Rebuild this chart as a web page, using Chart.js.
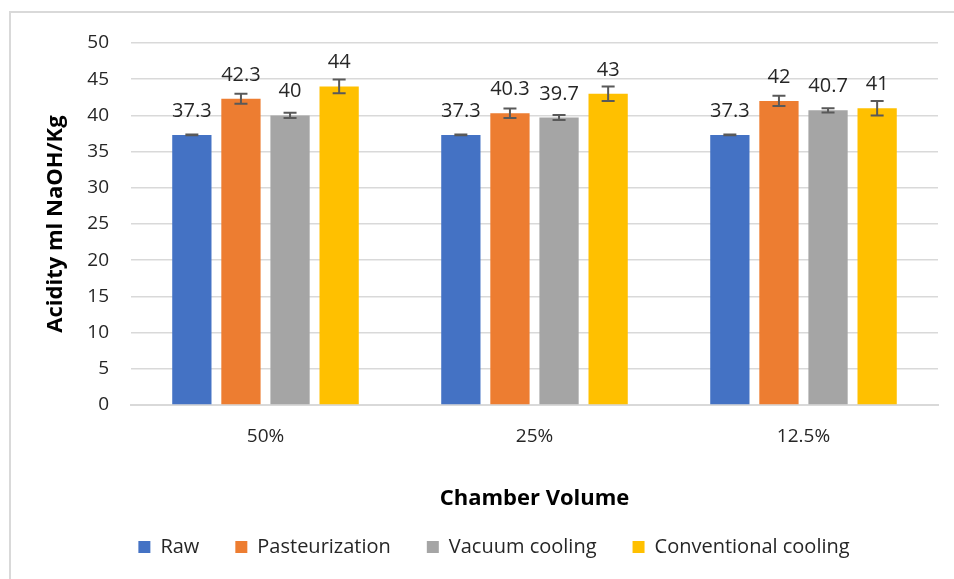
<!DOCTYPE html>
<html>
<head>
<meta charset="utf-8">
<script src="https://cdn.jsdelivr.net/npm/chart.js@4.4.0/dist/chart.umd.min.js"></script>
<style>
  html, body { margin: 0; padding: 0; background: #fff; }
  #wrap { position: relative; width: 954px; height: 579px; overflow: hidden; }
  #frame { position: absolute; left: 9px; top: 11px; width: 960px; height: 600px;
           border-left: 2px solid #d9d9d9; border-top: 2px solid #d9d9d9; }
  #chart { position: absolute; left: 0; top: 0; }
</style>
</head>
<body>
<div id="wrap">
  <div id="frame"></div>
  <canvas id="chart" width="954" height="579"></canvas>
</div>
<script>
const categories = ['50%', '25%', '12.5%'];
const seriesNames = ['Raw', 'Pasteurization', 'Vacuum cooling', 'Conventional cooling'];
const seriesColors = ['#4472C4', '#ED7D31', '#A5A5A5', '#FFC000'];

const rawValues = [37.3, 37.3, 37.3];
const pasteurValues = [42.3, 40.3, 42];
const vacuumValues = [40, 39.7, 40.7];
const conventionalValues = [44, 43, 41];

// error bar half-lengths
const rawErrors = [0.05, 0.05, 0.05];
const pasteurErrors = [0.7, 0.65, 0.7];
const vacuumErrors = [0.35, 0.35, 0.3];
const conventionalErrors = [0.95, 1.0, 1.0];

const yTicks = [0, 5, 10, 15, 20, 25, 30, 35, 40, 45, 50];

const FONT = "'Open Sans', 'Noto Sans', sans-serif";
const allValues = [rawValues, pasteurValues, vacuumValues, conventionalValues];
const allErrors = [rawErrors, pasteurErrors, vacuumErrors, conventionalErrors];

// Draw error bars and value labels on top of the bars
const barExtras = {
    id: 'barExtras',
    afterDatasetsDraw(chart) {
        const ctx = chart.ctx;
        const y = chart.scales.y;
        ctx.save();
        chart.data.datasets.forEach((ds, di) => {
            const meta = chart.getDatasetMeta(di);
            meta.data.forEach((bar, i) => {
                const v = ds.data[i];
                const e = ds.errors[i];
                const top = y.getPixelForValue(v + e);
                const bottom = y.getPixelForValue(v - e);
                ctx.strokeStyle = '#595959';
                ctx.lineWidth = 2;
                ctx.beginPath();
                ctx.moveTo(bar.x, top);
                ctx.lineTo(bar.x, bottom);
                ctx.moveTo(bar.x - 6.5, top);
                ctx.lineTo(bar.x + 6.5, top);
                ctx.moveTo(bar.x - 6.5, bottom);
                ctx.lineTo(bar.x + 6.5, bottom);
                ctx.stroke();

                ctx.fillStyle = '#262626';
                ctx.font = '20px ' + FONT;
                ctx.textAlign = 'center';
                ctx.textBaseline = 'alphabetic';
                ctx.fillText(String(v), bar.x, bar.y - 18);
            });
        });
        ctx.restore();
    }
};

const datasets = seriesNames.map((name, i) => ({
    label: name,
    data: allValues[i],
    errors: allErrors[i],
    backgroundColor: seriesColors[i],
    borderWidth: 0,
    categoryPercentage: 0.73,
    barPercentage: 0.8
}));

const ctx = document.getElementById('chart').getContext('2d');
const chart = new Chart(ctx, {
    type: 'bar',
    data: { labels: categories, datasets: datasets },
    options: {
        responsive: false,
        animation: false,
        layout: { padding: { left: 50, right: 16, top: 43, bottom: 12 } },
        plugins: {
            tooltip: { enabled: false },
            legend: {
                position: 'bottom',
                labels: {
                    boxWidth: 12,
                    boxHeight: 12,
                    padding: 36,
                    color: '#262626',
                    font: { family: FONT, size: 20 }
                }
            }
        },
        scales: {
            x: {
                grid: { display: false, drawTicks: false },
                border: { display: true, color: '#d9d9d9', width: 2 },
                ticks: { padding: 20, color: '#262626', font: { family: FONT, size: 19 } },
                title: {
                    display: true,
                    text: 'Chamber Volume',
                    color: '#000',
                    padding: { top: 0, bottom: -11 },
                    font: { family: FONT, size: 22, weight: 'bold' }
                },
                afterFit: scale => { scale.height = 96; }
            },
            y: {
                min: 0,
                max: 50,
                afterBuildTicks: scale => { scale.ticks = yTicks.map(v => ({ value: v })); },
                grid: { color: '#d9d9d9', lineWidth: 1.5, drawTicks: false },
                border: { display: false },
                ticks: { padding: 22, color: '#262626', font: { family: FONT, size: 19 } },
                title: {
                    display: true,
                    text: 'Acidity ml NaOH/Kg',
                    color: '#000',
                    padding: { top: -7, bottom: 0 },
                    font: { family: FONT, size: 22, weight: 'bold' }
                },
                afterFit: scale => { scale.width = 81; }
            }
        }
    },
    plugins: [barExtras]
});
</script>
</body>
</html>
